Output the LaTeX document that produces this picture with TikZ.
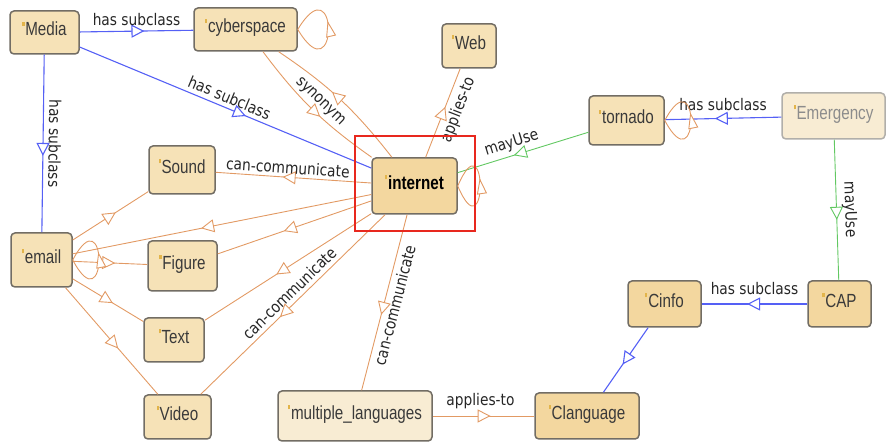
\documentclass[tikz,border=0pt]{standalone}
\usepackage{fontspec}
\setmainfont{DejaVu Sans}[FakeStretch=0.86]
\newfontfamily\clsfont{Liberation Sans}[FakeStretch=0.8]
\usetikzlibrary{arrows.meta,positioning,decorations.markings}
\definecolor{clsfill}{HTML}{F6E2B7}
\definecolor{clsdark}{HTML}{F3D79F}
\definecolor{clsfaint}{HTML}{F8ECD3}
\definecolor{clsline}{HTML}{726D64}
\definecolor{clstext}{HTML}{3A3A3A}
\definecolor{mkcol}{HTML}{E2B44A}
\definecolor{subblue}{HTML}{5560F5}
\definecolor{relorange}{HTML}{E29A64}
\definecolor{usegreen}{HTML}{62C862}
\definecolor{hired}{HTML}{E8281E}
\newcommand{\mk}{\textcolor{mkcol}{\rule[10pt]{2.2pt}{4pt}}\hspace{0.8pt}}

\begin{document}
\begin{tikzpicture}[x=1pt,y=1pt]
\tikzstyle{cls}=[draw=clsline, fill=clsfill, rounded corners=4pt, line width=1.5pt, text=clstext, font=\clsfont\fontsize{19}{22}\selectfont, text height=13pt, text depth=6pt, inner sep=0pt]
\tikzstyle{faint}=[fill=clsfaint, draw=clsline!55, text=black!45]
\tikzset{sz/.style 2 args={minimum width=#1pt, minimum height=#2pt}}
\tikzstyle{tri}=[postaction={decorate, decoration={markings, mark=at position 0.57 with {\arrow{Triangle[fill=white, length=13pt, width=13pt]}}}}]
\tikzstyle{looptri}=[postaction={decorate, decoration={markings, mark=at position 0.58 with {\arrow{Triangle[fill=white, length=16pt, width=10pt]}}}}]
\tikzstyle{subcl}=[draw=subblue, line width=1.1pt, tri]
\tikzstyle{rel}=[draw=relorange, line width=0.9pt, tri]
\tikzstyle{uses}=[draw=usegreen, line width=0.9pt, tri]
\tikzstyle{selfloop}=[draw=relorange, line width=0.9pt, looptri]
\tikzstyle{lbl}=[font=\fontsize{16}{19}\selectfont, text=black!85, inner sep=1pt]
\useasboundingbox (0,0) rectangle (888,443);
\path (44.5,410.5) node (media)[cls, sz={69}{43}] {\mk Media}
(245.5,413.5) node (cyber)[cls, sz={103}{43}] {\mk cyberspace}
(469,397) node (web)[cls, sz={54}{44}] {\mk Web}
(414.5,257) node (inet)[cls, fill=clsdark, sz={85}{56}, font=\clsfont\bfseries\fontsize{19}{22}\selectfont, text=black] {\mk internet}
(626.5,322.5) node (tornado)[cls, sz={75}{49}] {\mk tornado}
(833.5,327) node (emerg)[cls, faint, sz={103}{46}] {\mk Emergency}
(182,273) node (sound)[cls, sz={66}{48}] {\mk Sound}
(41.5,183) node (email)[cls, sz={61}{54}] {\mk email}
(182.5,177) node (figure)[cls, sz={69}{50}] {\mk Figure}
(174,103) node (txt)[cls, sz={60}{44}] {\mk Text}
(177.5,26) node (video)[cls, sz={67}{44}] {\mk Video}
(355,27) node (multi)[cls, fill=clsfaint, sz={154}{50}] {\mk multiple\_languages}
(587,27) node (clang)[cls, fill=clsdark, sz={104}{46}] {\mk Clanguage}
(664.5,139) node (cinfo)[cls, fill=clsdark, sz={73}{46}] {\mk Cinfo}
(839.5,139) node (cap)[cls, fill=clsdark, sz={63}{46}] {\mk CAP};
% subclass links
\draw[subcl] (media) -- node[lbl, above=4pt] {has subclass} (cyber);
\draw[subcl] (media) -- node[lbl, sloped, above=3pt] {has subclass} (inet);
\draw[subcl] (media) -- node[lbl, sloped, allow upside down, above=4pt] {has subclass} (email);
\draw[subcl] (emerg) -- node[lbl, above=6pt] {has subclass} (tornado);
\draw[subcl] (cap) -- node[lbl, above=8pt] {has subclass} (cinfo);
\draw[subcl] (cinfo) -- (clang);
% object properties
\draw[rel] (cyber) to[bend right=9] node[lbl, sloped, above=3pt] {synonym} (inet);
\draw[rel] (inet) to[bend right=9] (cyber);
\draw[rel] (inet) -- node[lbl, sloped, below=4pt, pos=0.59] {applies-to} (web);
\draw[uses] (tornado) -- node[lbl, sloped, above=3pt, pos=0.56] {mayUse} (inet);
\draw[uses] (emerg) -- node[lbl, sloped, above=4pt] {mayUse} (cap);
\draw[rel] (multi) -- node[lbl, above=6pt, pos=0.47] {applies-to} (clang);
\draw[rel] (inet) -- node[lbl, sloped, above=2pt, pos=0.54] {can-communicate} (sound);
\draw[rel] (inet) -- (email);
\draw[rel] (inet) -- (figure);
\draw[rel] (inet) -- (txt);
\draw[rel] (inet) -- node[lbl, sloped, above=3pt, pos=0.48] {can-communicate} (video);
\draw[rel] (inet) -- node[lbl, sloped, below=3pt] {can-communicate} (multi);
\draw[rel] (email) -- (sound);
\draw[rel] (email) -- (figure);
\draw[rel] (email) -- (txt);
\draw[rel] (email) -- (video);
% self loops
\draw[selfloop] (cyber.east) .. controls +(41,-68) and +(41,68) .. (cyber.east);
\draw[selfloop] (inet.east) .. controls +(30,-70) and +(30,70) .. (inet.east);
\draw[selfloop] (tornado.east) .. controls +(35,-65) and +(35,65) .. (tornado.east);
\draw[selfloop] (email.east) .. controls +(35,-66) and +(35,66) .. (email.east);
\draw[hired, line width=1.5pt] (355,307) rectangle (475,212);
\end{tikzpicture}
\end{document}
